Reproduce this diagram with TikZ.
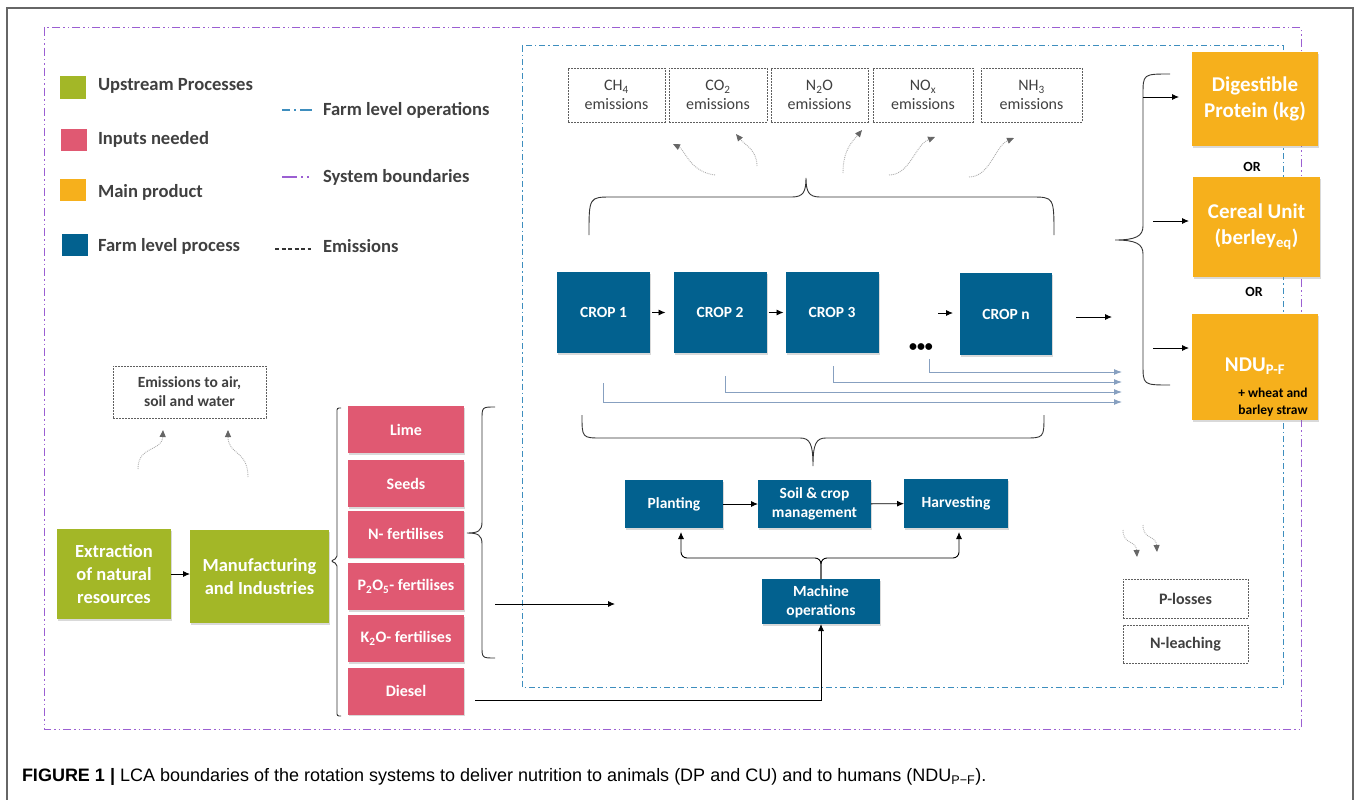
\documentclass[tikz,border=0pt]{standalone}
\usepackage{fontspec}
\setmainfont{Carlito}
\newfontfamily\capfont{Liberation Sans}
\usetikzlibrary{arrows.meta,shadows}

\definecolor{upgreen}{RGB}{163,183,39}
\definecolor{inpink}{RGB}{224,89,114}
\definecolor{prodorange}{RGB}{246,176,28}
\definecolor{farmblue}{RGB}{2,97,143}
\definecolor{farmline}{RGB}{62,142,190}
\definecolor{sysline}{RGB}{155,95,210}
\definecolor{txtgray}{RGB}{64,64,64}
\definecolor{emgray}{RGB}{95,95,95}
\definecolor{flowblue}{RGB}{135,160,192}

\tikzset{
  every node/.style={inner sep=0pt, outer sep=0pt},
  proc/.style={align=center, text=white,
    drop shadow={shadow xshift=1.2pt, shadow yshift=-1.8pt, opacity=.3}},
  upbox/.style={proc, fill=upgreen, font=\fontsize{18.5}{23}\selectfont\bfseries},
  inbox/.style={proc, fill=inpink, minimum width=116pt, minimum height=47pt,
    font=\fontsize{16}{19}\selectfont\bfseries},
  farmbox/.style={proc, fill=farmblue, font=\fontsize{15.5}{19}\selectfont\bfseries},
  prodbox/.style={proc, fill=prodorange, minimum width=126pt,
    font=\fontsize{21}{26}\selectfont\bfseries},
  embox/.style={draw=emgray, dash pattern=on 2pt off 1pt, line width=0.8pt,
    align=center, text=txtgray, font=\fontsize{16}{19}\selectfont},
  legsq/.style={minimum width=26pt, minimum height=22pt},
  legtxt/.style={anchor=west, text=txtgray, font=\fontsize{18.6}{22}\selectfont\bfseries},
  arr/.style={line width=0.9pt, -{Latex[length=7pt,width=6pt]}},
  flow/.style={draw=flowblue, line width=1pt, -{Latex[length=8pt,width=6pt]}},
  wavy/.style={draw=gray!65, densely dotted, line width=0.9pt,
    -{Triangle[length=7pt,width=6pt,color=gray!80!black]}},
  brk/.style={line width=0.9pt, draw=black!80}
}

\begin{document}
\begin{tikzpicture}[x=1pt, y=-1pt]
\useasboundingbox (0,0) rectangle (1358,800);

% Frame and boundaries
\draw[gray!80!black, line width=1.2pt] (7,800) -- (7,8) -- (1353,8) -- (1353,800);
\draw[sysline, line width=1pt,
  dash pattern=on 8pt off 3pt on 1.5pt off 3pt on 1.5pt off 3pt] (44,28) rectangle (1301,729);
\draw[farmline, line width=1pt,
  dash pattern=on 6pt off 3pt on 1.5pt off 3pt] (522,46) rectangle (1283,687);

% Legend
\node[legsq, fill=upgreen] (leg-up) at (72.5,87.5) {};
\node[legsq, fill=inpink] (leg-in) at (74,139.5) {};
\node[legsq, fill=prodorange] (leg-main) at (73,190) {};
\node[legsq, fill=farmblue] (leg-farm) at (74.5,244.5) {};
\node[legtxt] (leg-up-t) at (98,86) {Upstream Processes};
\node[legtxt] (leg-in-t) at (98,139) {Inputs needed};
\node[legtxt] (leg-main-t) at (98,192) {Main product};
\node[legtxt] (leg-farm-t) at (98,246) {Farm level process};
\draw[farmline, line width=1.3pt, dash pattern=on 8pt off 4pt on 2pt off 4pt on 12pt] (282,110) -- (312,110);
\draw[sysline, line width=1.3pt, dash pattern=on 15pt off 4pt on 2pt off 4pt on 2pt off 20pt] (282,177) -- (312,177);
\draw[black!80, line width=1.1pt, dash pattern=on 4pt off 2.5pt] (275,249) -- (311,249);
\node[legtxt] (leg-fl-t) at (323,110) {Farm level operations};
\node[legtxt] (leg-sb-t) at (323,177) {System boundaries};
\node[legtxt] (leg-em-t) at (323,246) {Emissions};

% Emissions
\node[embox, minimum width=97pt, minimum height=54pt] (ch4) at (616.5,95) {CH\textsubscript{4}\\emissions};
\node[embox, minimum width=98pt, minimum height=54pt] (co2) at (718,95) {CO\textsubscript{2}\\emissions};
\node[embox, minimum width=97pt, minimum height=54pt] (n2o) at (819.5,95) {N\textsubscript{2}O\\emissions};
\node[embox, minimum width=100pt, minimum height=54pt] (nox) at (923,95) {NO\textsubscript{x}\\emissions};
\node[embox, minimum width=101pt, minimum height=54pt] (nh3) at (1031.5,95) {NH\textsubscript{3}\\emissions};
\node[embox, minimum width=153pt, minimum height=52pt, font=\fontsize{15.5}{19}\selectfont\bfseries] (air) at (189.5,392) {Emissions to air,\\soil and water};
\node[embox, minimum width=125pt, minimum height=39pt, font=\fontsize{16}{19}\selectfont\bfseries] (ploss) at (1185.5,598.5) {P-losses};
\node[embox, minimum width=125pt, minimum height=38pt, font=\fontsize{16}{19}\selectfont\bfseries] (nleach) at (1185.5,644) {N-leaching};

\foreach \sx/\sy/\ax/\ay/\bx/\by/\ex/\ey in {
  715/175/690/172/685/150/673/144, 757/166/757/150/745/145/736/134,
  843/173/843/150/852/142/862/130, 889/175/910/175/915/145/935/137,
  969/177/990/177/995/146/1014/138, 138/469/138/445/162/452/163/430,
  248/477/248/450/228/455/228/430, 1123/530/1123/545/1136/540/1137/557,
  1143/525/1143/540/1156/535/1157/552}
  \draw[wavy] (\sx,\sy) .. controls (\ax,\ay) and (\bx,\by) .. (\ex,\ey);

% Upstream
\node[upbox, minimum width=114pt, minimum height=90pt] (ext) at (114,574) {Extraction\\of natural\\resources};
\node[upbox, minimum width=139pt, minimum height=93pt] (man) at (259.5,576.5) {Manufacturing\\and Industries};
\draw[arr] (ext.east) -- (ext.east -| man.west);

% Inputs
\node[inbox] (lime) at (406,429.5) {Lime};
\node[inbox] (seeds) at (406,483.5) {Seeds};
\node[inbox] (nfert) at (406,534) {N- fertilises};
\node[inbox] (pfert) at (406,586.5) {P\textsubscript{2}O\textsubscript{5}- fertilises};
\node[inbox] (kfert) at (406,638.5) {K\textsubscript{2}O- fertilises};
\node[inbox] (diesel) at (406,691) {Diesel};
\draw[brk, rounded corners=2pt] (341,408) -- (337,408) -- (337,558) -- (331,561) -- (337,564) -- (337,716) -- (341,716);
\draw[brk] (495,407) .. controls (482,407) and (482,407) .. (482,420) -- (482,522)
  .. controls (482,531) and (478,533) .. (467,533) .. controls (478,533) and (482,535) .. (482,544)
  -- (482,646) .. controls (482,658) and (482,658) .. (495,658);
\coordinate (in-out) at (495,604);
\coordinate (in-end) at (615,604);
\draw[arr] (in-out) -- (in-end);

% Crop rotation
\node[farmbox, minimum width=93pt, minimum height=81pt] (crop1) at (603.5,312.5) {CROP 1};
\node[farmbox, minimum width=93pt, minimum height=81pt] (crop2) at (720,312.5) {CROP 2};
\node[farmbox, minimum width=93pt, minimum height=81pt] (crop3) at (832,312.5) {CROP 3};
\node[farmbox, minimum width=92pt, minimum height=82pt] (cropn) at (1006,314) {CROP n};
\node[font=\fontsize{16}{16}\selectfont\bfseries] (dots) at (921,348) {•••};
\draw[arr, shorten <=2pt, shorten >=8pt] (crop1.east) -- (crop2.west);
\draw[arr, shorten <=2pt, shorten >=2pt] (crop2.east) -- (crop3.west);
\draw[arr] ([xshift=-22pt,yshift=1pt]cropn.west) -- ([xshift=-7pt,yshift=1pt]cropn.west);
\coordinate (crop-out) at (1112,317);
\draw[arr] ([xshift=24pt,yshift=-3pt]cropn.east) -- (crop-out);

% Residue flows
\coordinate (f1) at (1122,402);
\coordinate (f2) at (1122,392);
\coordinate (f3) at (1122,382);
\coordinate (f4) at (1122,372);
\draw[flow] ([yshift=-30pt]crop1.south) |- (f1);
\draw[flow] ([xshift=5pt,yshift=-23pt]crop2.south) |- (f2);
\draw[flow] ([xshift=1pt,yshift=-13pt]crop3.south) |- (f3);
\draw[flow] ([xshift=8pt,yshift=-7pt]dots.south) |- (f4);

% Braces
\draw[brk] (589,235) .. controls (589,197) and (589,197) .. (612,197) -- (792,197)
  .. controls (803,197) and (806,192) .. (806,178) .. controls (806,192) and (809,197) .. (820,197)
  -- (1031,197) .. controls (1054,197) and (1054,197) .. (1054,235);
\draw[brk] (582,415) .. controls (582,438) and (582,438) .. (602,438) -- (800,438)
  .. controls (810,438) and (813,444) .. (813,466) .. controls (813,444) and (816,438) .. (826,438)
  -- (1024,438) .. controls (1044,438) and (1044,438) .. (1044,415);

% Field operations
\node[farmbox, minimum width=98pt, minimum height=48pt] (plant) at (674,504) {Planting};
\node[farmbox, minimum width=113pt, minimum height=48pt] (soil) at (814.5,504) {Soil \& crop\\management};
\node[farmbox, minimum width=104pt, minimum height=49pt] (harv) at (956,503.5) {Harvesting};
\node[farmbox, minimum width=118pt, minimum height=45pt] (mach) at (821,601.5) {Machine\\operations};
\draw[arr] (plant) -- (soil);
\draw[arr] (soil) -- (harv);
\draw[arr, rounded corners=6pt, shorten >=4pt] (mach.north) -- ++(0,-21) -| ([xshift=7pt]plant.south);
\draw[arr, rounded corners=6pt, shorten >=4pt] (mach.north) -- ++(0,-21) -| ([xshift=3pt]harv.south);
\draw[arr] ([xshift=11pt,yshift=-9pt]diesel.east) -| (mach.south);

% Products
\node[prodbox, minimum height=94pt] (dp) at (1255,99) {Digestible\\Protein (kg)};
\node[prodbox, minimum width=127pt, minimum height=100pt] (cu) at (1256.5,227) {Cereal Unit\\(berley\textsubscript{eq})};
\node[prodbox, minimum height=106pt] (ndu) at (1255,367) {};
\node[text=white, font=\fontsize{21}{26}\selectfont\bfseries] (ndu-t) at (1255,366) {NDU\textsubscript{P-F}};
\node[align=center, font=\fontsize{13.5}{17}\selectfont\bfseries] (ndu-s) at (1273,402) {+ wheat and\\barley straw};
\node[font=\fontsize{14}{16}\selectfont\bfseries] (or1) at (1252,167) {OR};
\node[font=\fontsize{14}{16}\selectfont\bfseries] (or2) at (1254,292) {OR};
\draw[brk] (1170,74) .. controls (1143,74) and (1143,74) .. (1143,95) -- (1143,226)
  .. controls (1143,236) and (1136,240) .. (1115,240) .. controls (1136,240) and (1143,244) .. (1143,254)
  -- (1143,364) .. controls (1143,385) and (1143,385) .. (1170,385);
\coordinate (dp-in) at (1143,97);
\coordinate (cu-in) at (1153,221);
\coordinate (ndu-in) at (1153,348);
\draw[arr, shorten >=13pt] (dp-in) -- (dp-in -| dp.west);
\draw[arr, shorten >=4pt] (cu-in) -- (cu-in -| cu.west);
\draw[arr, shorten >=3pt] (ndu-in) -- (ndu-in -| ndu.west);

% Caption
\node[anchor=west, font=\capfont\fontsize{18}{21}\selectfont] (caption) at (22,777)
  {\textbf{FIGURE 1 |} LCA boundaries of the rotation systems to deliver nutrition to animals (DP and CU) and to humans (NDU\textsubscript{P−F}).};

\end{tikzpicture}
\end{document}
